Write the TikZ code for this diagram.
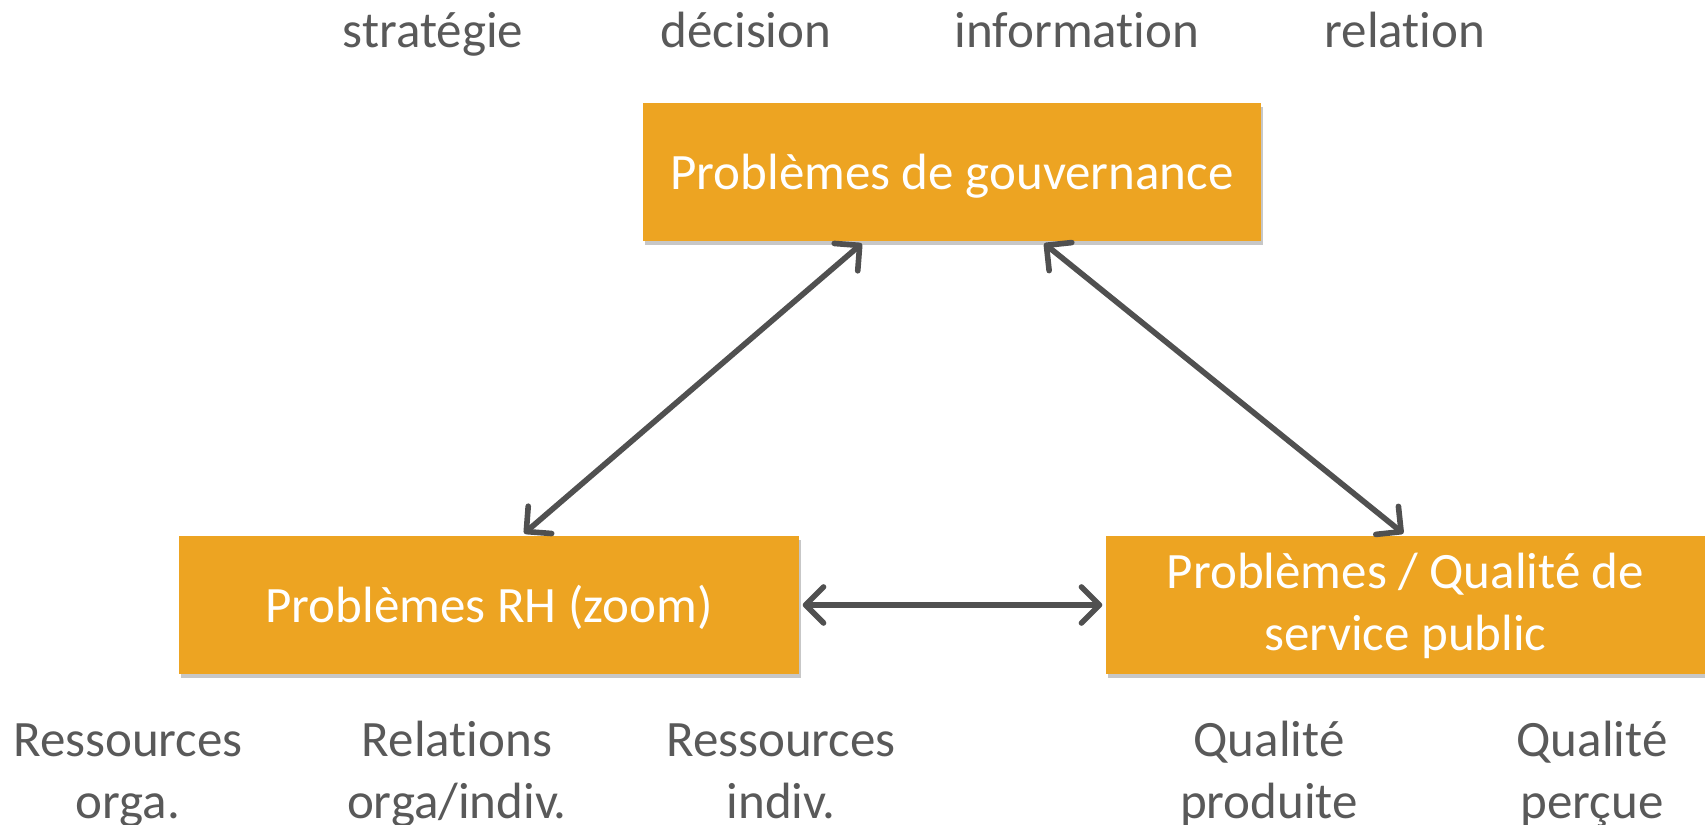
\documentclass[tikz,border=0pt]{standalone}
\usepackage{fontspec}
\setmainfont{Carlito}[Ligatures={NoCommon,NoRare}]
\usetikzlibrary{arrows.meta,shadows}
\definecolor{boxorange}{HTML}{EDA422}
\definecolor{labelgray}{HTML}{595959}
\definecolor{arrowgray}{HTML}{505050}
\tikzset{
  probbox/.style={fill=boxorange, draw=none, text=white, minimum width=#1, minimum height=1.38cm, inner sep=0pt, align=center,
    font=\fontsize{14.5}{17.4}\selectfont, text height=12pt, text depth=2pt,
    drop shadow={shadow xshift=0.02cm, shadow yshift=-0.04cm, opacity=0.22, fill=black}},
  toplabel/.style={text=labelgray, inner sep=0pt, anchor=base, font=\fontsize{14.5}{17.4}\selectfont},
  botlabel/.style={text=labelgray, inner sep=0pt, anchor=base, align=center, font=\fontsize{14.5}{17.9}\selectfont},
  link/.style={draw=arrowgray, line width=1.6pt, line cap=round, {Straight Barb[round,length=1.8mm,width=3.6mm]}-{Straight Barb[round,length=1.8mm,width=3.6mm]}, shorten <=0.8pt, shorten >=0.8pt}
}
\begin{document}
\begin{tikzpicture}[x=0.01cm,y=-0.01cm]
\useasboundingbox (0,0) rectangle (1705,825);
% top labels
\node[toplabel] (strat) at (433,48) {stratégie};
\node[toplabel] (deci) at (746,48) {décision};
\node[toplabel] (info) at (1077,48) {information};
\node[toplabel] (rel) at (1405,48) {relation};
% boxes
\node[probbox=6.18cm] (gov) at (952,172) {Problèmes de gouvernance};
\node[probbox=6.2cm] (rh) at (489,605) {Problèmes RH (zoom)};
\node[probbox=5.99cm, text height=28pt, text depth=2.4pt] (qual) at (1405.5,605) {Problèmes / Qualité de\\service public};
% arrows
\draw[link] ([xshift=-0.88cm]gov.south) -- ([xshift=0.33cm]rh.north);
\draw[link] ([xshift=0.9cm]gov.south) -- (qual.north);
\draw[link] (rh.east) -- (qual.west);
% bottom labels
\node[botlabel] (ro) at (128,819) {Ressources\\orga.};
\node[botlabel] (roi) at (457,819) {Relations\\orga/indiv.};
\node[botlabel] (ri) at (781,819) {Ressources\\indiv.};
\node[botlabel] (qp) at (1269,819) {Qualité\\produite};
\node[botlabel] (qpe) at (1592,819) {Qualité\\perçue};
\end{tikzpicture}
\end{document}
